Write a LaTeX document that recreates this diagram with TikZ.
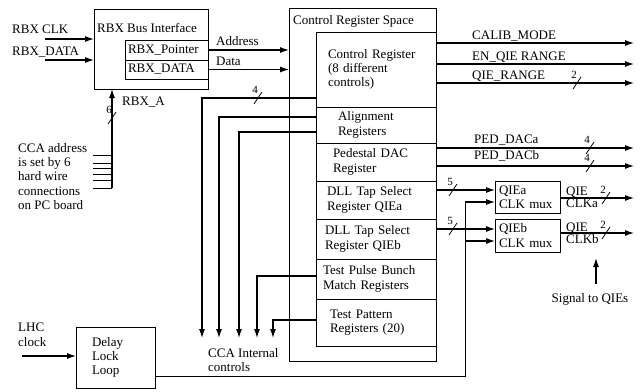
\documentclass[tikz,border=0pt]{standalone}
\usepackage{fontspec}
\setmainfont{Liberation Serif}
\usetikzlibrary{arrows.meta,positioning}

\tikzset{
  blk/.style={draw, line width=0.9pt, inner sep=0pt, outer sep=0pt},
  reg/.style 2 args={blk, minimum width=120pt, align=left, inner xsep=#1, text width=#2},
  sig/.style={line width=1.1pt, -{Latex[length=9pt,width=6pt]}},
  wire/.style={line width=0.8pt},
  lbl/.style={anchor=base west, inner sep=0pt},
}
% bus width mark: x, y, number of lines
\newcommand\busmark[3]{%
  \draw[wire] ({#1-4},{#2+6}) -- ({#1+4},{#2-6});
  \node[anchor=base east, inner sep=0pt, font=\fontsize{11}{12}\selectfont] (bw-#1-#2) at ({#1},{#2-5}) {#3};}

\begin{document}
\begin{tikzpicture}[x=1pt,y=-1pt,font=\fontsize{13}{14.3}\selectfont]
\useasboundingbox (0,0) rectangle (640,391);

% RBX bus interface
\node[blk, minimum width=114pt, minimum height=80pt] (rbx) at (151,49) {};
\node[lbl] (rbxt) at (97,32) {RBX Bus Interface};
\node[blk, minimum width=83pt, minimum height=20pt, inner xsep=3pt, text width=77pt, align=left] (ptr) at (166.5,50) {RBX\_Pointer};
\node[blk, minimum width=83pt, minimum height=19pt, inner xsep=3pt, text width=77pt, align=left] (rdat) at (166.5,69.5) {RBX\_DATA};
\node[lbl] (clkl) at (12,33) {RBX CLK};
\node[lbl] (datl) at (12,55) {RBX\_DATA};
\coordinate (clkin) at (45,39);
\coordinate (datin) at (45,60);
\draw[sig] (clkin) -- (clkin -| rbx.west);
\draw[sig] (datin) -- (datin -| rbx.west);

% board address
\coordinate (rbxa) at (112,188);
\draw[sig] (rbxa) -- (rbxa |- rbx.south);
\node[lbl] (rbxal) at (122,105) {RBX\_A};
\busmark{112}{118}{6}
\foreach \y in {155,163,168,174,180,188}
  \draw[wire] (93,\y) -- (rbxa |- 0,\y);
\node[anchor=north west, inner sep=0pt, align=left] (ccaa) at (18,143) {CCA address\\is set by 6\\hard wire\\connections\\on PC board};

% control register space
\node[blk, minimum width=147pt, minimum height=353pt] (crs) at (362.5,184.5) {};
\node[lbl] (crst) at (293,24) {Control Register Space};
\node[reg={12pt}{96pt}, minimum height=75pt, anchor=north west] (creg) at (316,32) {Control Register\\(8 different\\controls)};
\node[reg={22pt}{76pt}, minimum height=36pt, below=0pt of creg] (align) {Alignment\\Registers};
\node[reg={17pt}{86pt}, minimum height=38pt, below=0pt of align] (pdac) {Pedestal DAC\\Register};
\node[reg={11pt}{98pt}, minimum height=38pt, below=0pt of pdac] (tapa) {DLL Tap Select\\Register QIEa};
\node[reg={9pt}{102pt}, minimum height=40pt, below=0pt of tapa] (tapb) {DLL Tap Select\\Register QIEb};
\node[reg={7pt}{106pt}, minimum height=40pt, below=0pt of tapb] (tpulse) {Test Pulse Bunch\\Match Registers};
\node[reg={14pt}{92pt}, minimum height=47pt, below=0pt of tpulse] (tpat) {Test Pattern\\Registers (20)};

\draw[sig] (ptr.east) -- (ptr.east -| crs.west);
\node[lbl] (addl) at (216,45) {Address};
\draw[sig] (rdat.east) -- (rdat.east -| crs.west);
\node[lbl] (datal) at (216,65) {Data};

% outputs of the control register
\coordinate (calib) at (634,43);
\coordinate (enqie) at (634,64);
\coordinate (qier) at (634,83);
\draw[sig] (calib -| creg.east) -- (calib);
\draw[sig] (enqie -| creg.east) -- (enqie);
\draw[sig] (qier -| creg.east) -- (qier);
\node[lbl] (calibl) at (472,39) {CALIB\_MODE};
\node[lbl] (enqiel) at (472,60) {EN\_QIE RANGE};
\node[lbl] (qierl) at (472,79) {QIE\_RANGE};
\busmark{577}{83}{2}

% pedestal DACs
\coordinate (peda) at (634,148);
\coordinate (pedb) at (634,166);
\draw[sig] (peda -| pdac.east) -- (peda);
\draw[sig] (pedb -| pdac.east) -- (pedb);
\node[lbl] (pedal) at (474,143) {PED\_DACa};
\node[lbl] (pedbl) at (474,159) {PED\_DACb};
\busmark{590}{148}{4}
\busmark{590}{166}{4}

% QIE clock muxes
\node[blk, minimum width=65pt, minimum height=32pt, inner xsep=4pt, text width=57pt, align=left] (muxa) at (527.5,197) {QIEa\\CLK mux};
\node[blk, minimum width=65pt, minimum height=33pt, inner xsep=4pt, text width=57pt, align=left] (muxb) at (527.5,235.5) {QIEb\\CLK mux};
\coordinate (tapain) at ([yshift=7pt]muxa.west);
\coordinate (clkain) at ([yshift=-5pt]muxa.west);
\coordinate (tapbin) at ([yshift=6.5pt]muxb.west);
\coordinate (clkbin) at ([yshift=-5.5pt]muxb.west);
\draw[sig] (tapain -| tapa.east) -- (tapain);
\draw[sig] (tapbin -| tapb.east) -- (tapbin);
\busmark{453}{190}{5}
\busmark{453}{229}{5}

\coordinate (qa) at (634,198);
\coordinate (qb) at (634,233);
\draw[sig] (qa -| muxa.east) -- (qa);
\draw[sig] (qb -| muxb.east) -- (qb);
\node[lbl] (qal) at (566,195) {QIE};
\node[lbl] (clkal) at (566,207) {CLKa};
\node[lbl] (qbl) at (566,231) {QIE};
\node[lbl] (clkbl) at (566,243) {CLKb};
\busmark{606}{198}{2}
\busmark{606}{233}{2}

\node[anchor=base, inner sep=0pt] (sigq) at (590,302) {Signal to QIEs};
\coordinate (sq) at (596,258);
\draw[sig] (sigq.north -| sq) ++(0,-9) -- (sq);

% delay lock loop
\node[blk, minimum width=79pt, minimum height=61pt, inner xsep=16pt, text width=47pt, align=left] (dll) at (115.5,357.5) {Delay\\Lock\\Loop};
\node[anchor=north west, inner sep=0pt, align=left] (lhc) at (18,323) {LHC\\clock};
\coordinate (lhcin) at (22,356);
\draw[sig] (lhcin) -- (lhcin -| dll.west);
\coordinate (clkbus) at (465,376);
\draw[wire] (clkbus -| dll.east) -- (clkbus) -- (clkbus |- clkain);
\draw[sig] (clkbus |- clkain) -- (clkain);
\draw[sig] (clkbus |- clkbin) -- (clkbin);

% internal controls
\foreach \n/\x/\y/\src in {1/202/98/creg, 2/219/117/align, 3/239/132/align, 4/257/276/tpulse, 5/273/320/tpat} {
  \coordinate (c\n) at (\x,\y);
  \coordinate (t\n) at (\x,338);
  \draw[sig] (c\n -| \src.west) -- (c\n) -- (t\n);
}
\busmark{258}{98}{4}
\node[anchor=north west, inner sep=0pt, align=left] (ccai) at (208,348) {CCA Internal\\controls};
\end{tikzpicture}
\end{document}
